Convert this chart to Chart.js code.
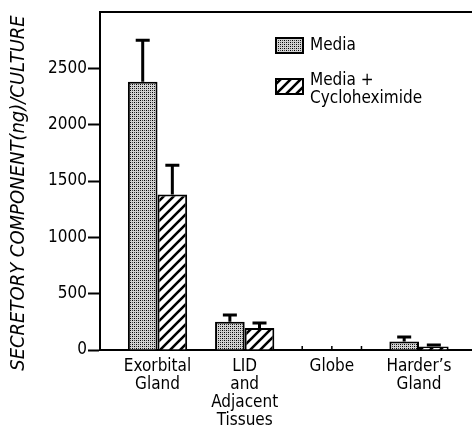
<!DOCTYPE html>
<html>
<head>
<meta charset="utf-8">
<script src="https://cdn.jsdelivr.net/npm/chart.js@4/dist/chart.umd.min.js"></script>
<style>
  html, body { margin: 0; padding: 0; background: #fff; }
  #wrap { width: 472px; height: 430px; }
</style>
</head>
<body>
<div id="wrap"><canvas id="c" width="472" height="430"></canvas></div>
<script>
// Tissue sources (multi-line tick labels)
const categories = [
  ['Exorbital', 'Gland'],
  ['LID', 'and', 'Adjacent', 'Tissues'],
  ['Globe'],
  ['Harder\u2019s', 'Gland']
];
// Series names shown in the key
const seriesNames = ['Media', ['Media +', 'Cycloheximide']];
// Secretory component (ng) per culture, with upper error bars
const mediaValues = [2380, 250, 0, 75];
const mediaErrors = [370, 60, 0, 40];
const cycloValues = [1380, 195, 0, 30];
const cycloErrors = [260, 45, 0, 15];
// Value axis
const yTicks = [0, 500, 1000, 1500, 2000, 2500];
const yMax = 3000;
const yTitle = 'SECRETORY COMPONENT(ng)/CULTURE';

const FONT = "'Liberation Sans Narrow', 'DejaVu Sans Condensed', 'Liberation Sans', sans-serif";

function stipplePattern() {
  const c = document.createElement('canvas');
  c.width = 4; c.height = 4;
  const g = c.getContext('2d');
  g.fillStyle = '#d2d2d2';
  g.fillRect(0, 0, 4, 4);
  g.fillStyle = '#000';
  [[0, 0], [2, 2]].forEach(([x, y]) => g.fillRect(x, y, 1, 1));
  g.fillStyle = '#444';
  [[2, 0], [0, 2]].forEach(([x, y]) => g.fillRect(x, y, 1, 1));
  return g.createPattern(c, 'repeat');
}

function hatchPattern() {
  const s = 10;
  const c = document.createElement('canvas');
  c.width = s; c.height = s;
  const g = c.getContext('2d');
  g.fillStyle = '#fff';
  g.fillRect(0, 0, s, s);
  g.strokeStyle = '#000';
  g.lineWidth = 2.6;
  g.beginPath();
  for (const k of [-s, 0, s]) {
    g.moveTo(k - 1, s + 1);
    g.lineTo(k + s + 1, -1);
  }
  g.stroke();
  return g.createPattern(c, 'repeat');
}

// Upward error bars with caps
const errorBars = {
  id: 'errorBars',
  afterDatasetsDraw(chart) {
    const { ctx, scales: { y } } = chart;
    ctx.save();
    ctx.strokeStyle = '#000';
    ctx.lineWidth = 3;
    chart.data.datasets.forEach((ds, di) => {
      const meta = chart.getDatasetMeta(di);
      meta.data.forEach((bar, i) => {
        const err = ds.errors[i];
        if (!err) return;
        const v = ds.data[i].y;
        const yBar = y.getPixelForValue(v);
        const yTop = y.getPixelForValue(v + err);
        ctx.beginPath();
        ctx.moveTo(bar.x, yBar);
        ctx.lineTo(bar.x, yTop);
        ctx.moveTo(bar.x - 7, yTop);
        ctx.lineTo(bar.x + 7, yTop);
        ctx.stroke();
      });
    });
    ctx.restore();
  }
};

// Top frame line, small marks under empty bars, key and rotated axis title
const decorations = {
  id: 'decorations',
  afterDraw(chart) {
    const { ctx, chartArea: a, scales: { y } } = chart;
    ctx.save();
    ctx.strokeStyle = '#000';
    ctx.lineWidth = 2;
    ctx.beginPath();
    ctx.moveTo(a.left - 1, a.top);
    ctx.lineTo(a.right, a.top);
    ctx.stroke();

    // short marks along the baseline where bars are zero
    const y0 = y.getPixelForValue(0);
    ctx.lineWidth = 1.5;
    mediaValues.forEach((v, i) => {
      if (v !== 0 || cycloValues[i] !== 0) return;
      const b0 = chart.getDatasetMeta(0).data[i];
      const b1 = chart.getDatasetMeta(1).data[i];
      const xs = [b0.x - b0.width / 2, b1.x - b1.width / 2, b1.x + b1.width / 2];
      ctx.beginPath();
      xs.forEach(x => { ctx.moveTo(x, y0); ctx.lineTo(x, y0 - 4); });
      ctx.stroke();
    });

    // key
    const kx = a.left + 175;
    const ky = a.top + 25;
    const bw = 29, bh = 17;
    const fills = [chart.data.datasets[0].backgroundColor, chart.data.datasets[1].backgroundColor];
    const rows = [ky, ky + 41];
    ctx.font = '17px ' + FONT;
    ctx.textBaseline = 'middle';
    ctx.textAlign = 'left';
    seriesNames.forEach((name, i) => {
      const top = rows[i];
      ctx.fillStyle = fills[i];
      ctx.fillRect(kx, top, bw, bh);
      ctx.strokeStyle = '#000';
      ctx.lineWidth = 2;
      ctx.strokeRect(kx + 1, top + 1, bw - 2, bh - 2);
      ctx.fillStyle = '#000';
      const lines = Array.isArray(name) ? name : [name];
      const lh = 18;
      const startY = top + bh / 2 - (lines.length - 1) * lh / 2 + (lines.length > 1 ? 3 : 0);
      lines.forEach((t, j) => ctx.fillText(t, kx + bw + 6, startY + j * lh));
    });

    // axis title
    ctx.save();
    ctx.translate(19, 193);
    ctx.rotate(-Math.PI / 2);
    ctx.font = 'italic 20px ' + FONT;
    ctx.textAlign = 'center';
    ctx.textBaseline = 'middle';
    ctx.fillStyle = '#000';
    ctx.fillText(yTitle, 0, 0);
    ctx.restore();
    ctx.restore();
  }
};

const chart = new Chart(document.getElementById('c'), {
  type: 'bar',
  data: {
    datasets: [
      {
        label: 'Media',
        data: mediaValues.map((v, i) => ({ x: i, y: v })),
        errors: mediaErrors,
        backgroundColor: stipplePattern(),
        borderColor: '#000',
        borderWidth: 2
      },
      {
        label: 'Media + Cycloheximide',
        data: cycloValues.map((v, i) => ({ x: i, y: v })),
        errors: cycloErrors,
        backgroundColor: hatchPattern(),
        borderColor: '#000',
        borderWidth: 2
      }
    ]
  },
  options: {
    responsive: false,
    animation: false,
    devicePixelRatio: 1,
    layout: { padding: { top: 12, right: 0, bottom: 0, left: 0 } },
    plugins: { legend: { display: false }, tooltip: { enabled: false } },
    datasets: { bar: { categoryPercentage: 0.68, barPercentage: 1 } },
    scales: {
      x: {
        type: 'linear',
        offset: false,
        min: -0.66,
        max: 3.608,
        afterBuildTicks: s => { s.ticks = categories.map((_, i) => ({ value: i })); },
        afterFit: s => { s.height = 80; },
        ticks: {
          autoSkip: false,
          maxRotation: 0,
          padding: 0,
          color: '#000',
          font: { family: FONT, size: 17, lineHeight: '18px' },
          callback: v => categories[v]
        },
        grid: { display: false, offset: false },
        border: { display: true, color: '#000', width: 2 }
      },
      y: {
        min: 0,
        max: yMax,
        afterBuildTicks: s => { s.ticks = yTicks.map(v => ({ value: v })); },
        afterFit: s => { s.width = 100; },
        ticks: {
          padding: 1,
          color: '#000',
          font: { family: FONT, size: 17 },
          callback: v => String(v)
        },
        grid: { drawOnChartArea: false, tickLength: 12, tickWidth: 2, tickColor: '#000' },
        border: { display: true, color: '#000', width: 2 }
      }
    }
  },
  plugins: [errorBars, decorations]
});
</script>
</body>
</html>
